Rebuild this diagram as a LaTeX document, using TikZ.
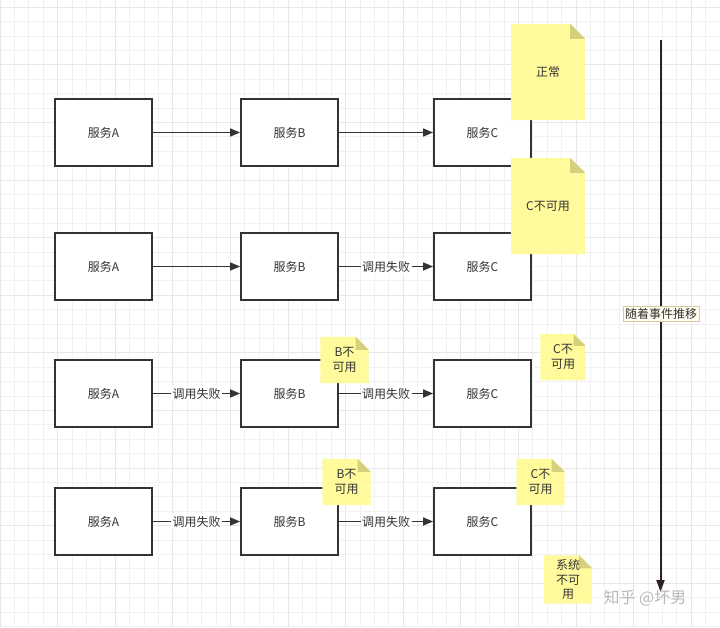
\documentclass[tikz,border=0pt]{standalone}
\usepackage{fontspec}
\setmainfont{Noto Sans CJK SC}
\usetikzlibrary{arrows.meta}
\definecolor{gridc}{HTML}{F1F1F1}
\definecolor{gridm}{HTML}{E8E8E8}
\definecolor{boxc}{HTML}{333333}
\definecolor{txtc}{HTML}{333333}
\definecolor{notey}{HTML}{FFFA9C}
\definecolor{notef}{HTML}{D4D07E}
\definecolor{timec}{HTML}{2E2129}
\definecolor{lblfill}{HTML}{FFFCF0}
\definecolor{lbldraw}{HTML}{D8C9A3}
\tikzset{
  svc/.style={draw=boxc, line width=1.8pt, fill=white, minimum width=97pt, minimum height=67pt, inner sep=0pt, text=txtc, font=\fontsize{12}{14}\selectfont},
  arr/.style={draw=boxc, line width=1.5pt, -{Triangle[length=10pt,width=8pt]}},
  lbl/.style={fill=white, inner sep=1.5pt, text=txtc, font=\fontsize{12}{14}\selectfont},
  notetxt/.style={inner sep=0pt, text=txtc, align=center, font=\fontsize{12}{14.5}\selectfont},
}
\newcommand{\mknote}[2]{% name, fold
  \path[fill=notey] (#1.north west) -- ([xshift=-#2]#1.north east) -- ([yshift=-#2]#1.north east) -- (#1.south east) -- (#1.south west) -- cycle;
  \path[fill=notef] ([xshift=-#2]#1.north east) -- ([yshift=-#2]#1.north east) -- ([xshift=-#2,yshift=-#2]#1.north east) -- cycle;
}
\begin{document}
\begin{tikzpicture}[x=1pt,y=-1pt]
\useasboundingbox (0,0) rectangle (720,627);
% grid
\foreach \i in {0,...,50} {
  \pgfmathsetmacro{\xx}{\i*14.4}
  \draw[gridc, line width=0.7pt] (\xx,0) -- (\xx,627);
}
\foreach \i in {0,...,43} {
  \pgfmathsetmacro{\yy}{7.2+\i*14.4}
  \draw[gridc, line width=0.7pt] (0,\yy) -- (720,\yy);
}
\foreach \i in {0,...,12} {
  \pgfmathsetmacro{\xx}{\i*57.6}
  \draw[gridm, line width=0.8pt] (\xx,0) -- (\xx,627);
}
\foreach \i in {0,...,10} {
  \pgfmathsetmacro{\yy}{7.2+\i*57.6}
  \draw[gridm, line width=0.8pt] (0,\yy) -- (720,\yy);
}

% service boxes
\node[svc] (a1) at (103.5,132.5) {服务A};
\node[svc] (b1) at (289.5,132.5) {服务B};
\node[svc] (c1) at (482.5,132.5) {服务C};
\node[svc] (a2) at (103.5,266.5) {服务A};
\node[svc] (b2) at (289.5,266.5) {服务B};
\node[svc] (c2) at (482.5,266.5) {服务C};
\node[svc] (a3) at (103.5,393.5) {服务A};
\node[svc] (b3) at (289.5,393.5) {服务B};
\node[svc] (c3) at (482.5,393.5) {服务C};
\node[svc] (a4) at (103.5,521.5) {服务A};
\node[svc] (b4) at (289.5,521.5) {服务B};
\node[svc] (c4) at (482.5,521.5) {服务C};

% connectors
\draw[arr] (a1) -- (b1);
\draw[arr] (b1) -- (c1);
\draw[arr] (a2) -- (b2);
\draw[arr] (b2) -- node[lbl] {调用失败} (c2);
\draw[arr] (a3) -- node[lbl] {调用失败} (b3);
\draw[arr] (b3) -- node[lbl] {调用失败} (c3);
\draw[arr] (a4) -- node[lbl] {调用失败} (b4);
\draw[arr] (b4) -- node[lbl] {调用失败} (c4);

% notes
\node[notetxt, minimum width=74pt, minimum height=96pt] (n1) at (548,72) {};
\mknote{n1}{15pt}
\node[notetxt] (n1t) at (548,72) {正常};

\node[notetxt, minimum width=74pt, minimum height=96pt] (n2) at (548,206) {};
\mknote{n2}{15pt}
\node[notetxt] (n2t) at (548,206) {C不可用};

\node[notetxt, minimum width=48pt, minimum height=46pt] (n3) at (344.5,360) {};
\mknote{n3}{13pt}
\node[notetxt] (n3t) at (344.5,360) {B不\\可用};

\node[notetxt, minimum width=45pt, minimum height=46pt] (n4) at (563,357) {};
\mknote{n4}{12pt}
\node[notetxt] (n4t) at (563,357) {C不\\可用};

\node[notetxt, minimum width=48pt, minimum height=46pt] (n5) at (346.5,482) {};
\mknote{n5}{13pt}
\node[notetxt] (n5t) at (346.5,482) {B不\\可用};

\node[notetxt, minimum width=48pt, minimum height=46pt] (n6) at (540.5,482) {};
\mknote{n6}{13pt}
\node[notetxt] (n6t) at (540.5,482) {C不\\可用};

\node[notetxt, minimum width=48pt, minimum height=48pt] (n7) at (568,579.5) {};
\mknote{n7}{13pt}
\node[notetxt] (n7t) at (568,579.5) {系统\\不可\\用};

% timeline
\coordinate (tstart) at (660.5,40);
\coordinate (tend) at (660.5,592);
\draw[timec, line width=2pt, -{Triangle[length=12pt,width=8pt]}] (tstart) -- (tend);
\node[fill=lblfill, draw=lbldraw, line width=0.8pt, inner sep=2pt, text=txtc, font=\fontsize{12}{14}\selectfont] (tl) at (661,314) {随着事件推移};

% watermark
\node[text=gray!55, font=\fontsize{16}{18}\selectfont, inner sep=0pt] (wm) at (645,598) {知乎 @坏男};
\end{tikzpicture}
\end{document}
